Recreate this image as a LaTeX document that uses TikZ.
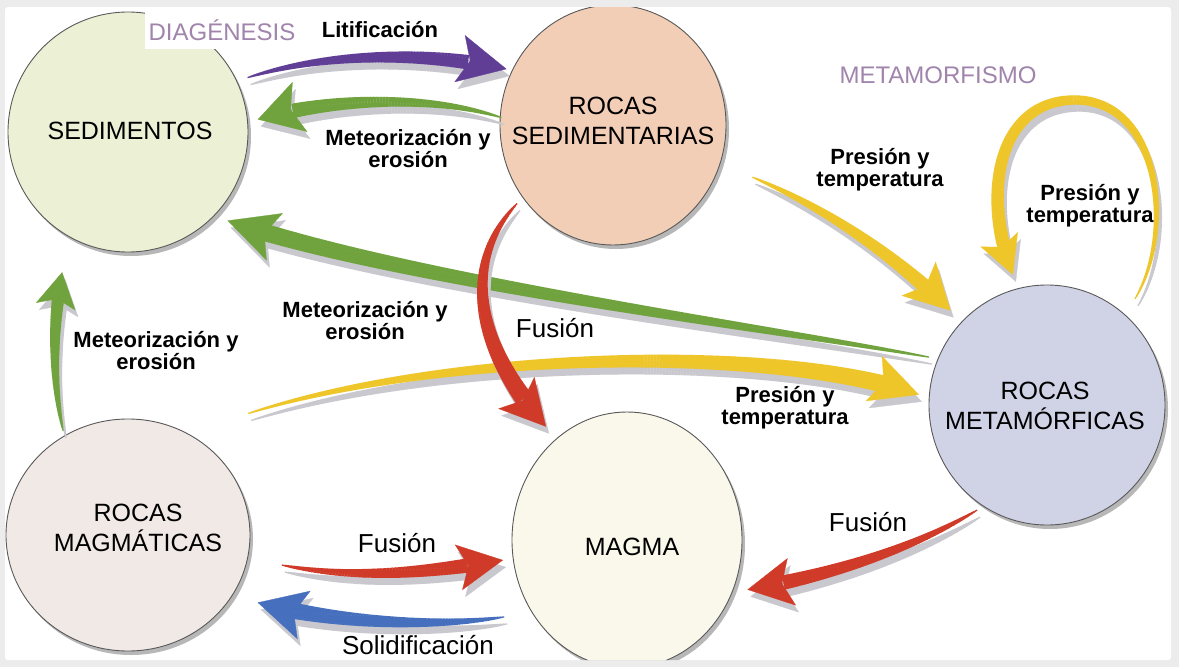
\documentclass[tikz,border=0pt]{standalone}
\usepackage{fontspec}
\setmainfont{Liberation Sans}
\usetikzlibrary{shapes.geometric,decorations.markings,calc,shadows,arrows.meta}

\definecolor{cSed}{RGB}{236,240,212}
\definecolor{cSedr}{RGB}{243,206,182}
\definecolor{cMeta}{RGB}{208,210,230}
\definecolor{cMagma}{RGB}{250,247,235}
\definecolor{cMagm}{RGB}{241,233,229}
\definecolor{aPurple}{RGB}{96,62,150}
\definecolor{aGreen}{RGB}{112,163,62}
\definecolor{aRed}{RGB}{208,58,40}
\definecolor{aYellow}{RGB}{238,198,42}
\definecolor{aBlue}{RGB}{70,112,190}
\definecolor{aShadow}{RGB}{200,200,206}
\definecolor{tPurple}{RGB}{160,132,172}
\definecolor{frameGray}{RGB}{236,236,236}

\tikzset{
  rock/.style={ellipse, draw=black!65, line width=0.9pt, inner sep=0pt,
    drop shadow={shadow xshift=3pt, shadow yshift=-4pt, opacity=0.4, fill=black!70}},
  rocktext/.style={align=center, font=\fontsize{25}{30}\selectfont, inner sep=0pt},
  lbl/.style={align=center, font=\bfseries\fontsize{22}{22}\selectfont, inner sep=1pt},
  lblr/.style={font=\fontsize{26}{28}\selectfont, inner sep=1pt},
  phase/.style={font=\fontsize{24}{26}\selectfont, text=tPurple, inner sep=4pt},
  % #1 colour, #2 head length, #3 head width (full), #4 body half-width
  taper/.style n args={4}{
    draw=#1, line width=0.3pt,
    -{Stealth[length=#2pt, width=#3pt, inset=#2pt*0.22, fill=#1]},
    postaction={decorate, decoration={markings,
      mark=between positions 0 and 0.99 step 3pt with {%
        \pgfmathsetmacro\dfs{\pgfkeysvalueof{/pgf/decoration/mark info/distance from start}}%
        \pgfmathsetmacro\plen{\pgfdecoratedpathlength}%
        \pgfmathtruncatemacro\okb{(\dfs < \plen - #2*0.8) ? 1 : 0}%
        \ifnum\okb=1
          \pgfmathsetmacro\tr{0.6+(#4-0.6)*(max(\dfs/\plen,0.001))^0.7}%
          \fill[#1] (-1.7pt,-\tr pt) rectangle (1.7pt,\tr pt);%
        \fi}}}}
}
\newcommand{\flowarrow}[5]{%
  \path[transform canvas={shift={(3pt,-7pt)}}, taper={aShadow}{#2}{#3}{#4}] #5;
  \path[taper={#1}{#2}{#3}{#4}] #5;
}

\begin{document}
\begin{tikzpicture}[x=1pt,y=-1pt]
\useasboundingbox (0,0) rectangle (1179,667);
\fill[frameGray] (0,0) rectangle (1179,667);
\fill[white, rounded corners=3pt] (5,7) rectangle (1171,660);
\begin{scope}
\clip[rounded corners=3pt] (5,7) rectangle (1171,660);

% rocks
\node[rock, fill=cSed, minimum width=240pt, minimum height=240pt] (sed) at (128,132) {};
\node[rock, fill=cSedr, minimum width=226pt, minimum height=240pt] (sedr) at (613,125) {};
\node[rock, fill=cMeta, minimum width=236pt, minimum height=240pt] (meta) at (1047,405) {};
\node[rock, fill=cMagma, minimum width=230pt, minimum height=256pt] (magma) at (627,540) {};
\node[rock, fill=cMagm, minimum width=244pt, minimum height=232pt] (magm) at (128,535) {};
\node[rocktext] (sedT) at (130,131) {SEDIMENTOS};
\node[rocktext] (sedrT) at (613,121) {ROCAS\\SEDIMENTARIAS};
\node[rocktext] (metaT) at (1045,406) {ROCAS\\METAMÓRFICAS};
\node[rocktext] (magmaT) at (632,547) {MAGMA};
\node[rocktext] (magmT) at (138,528) {ROCAS\\MAGMÁTICAS};

% arrows
\flowarrow{aPurple}{48}{48}{8}{($(sed.25)+(12,-4)$) .. controls (330,52) and (430,52) .. ($(sedr.152)+(-5,-2)$)}
\flowarrow{aGreen}{44}{52}{8}{(sedr.176) .. controls (430,95) and (330,98) .. ($(sed.6)+(10,0)$)}
\flowarrow{aGreen}{50}{50}{9}{($(meta.155)+(-12,2)$) .. controls (780,330) and (400,280) .. ($(sed.-42)+(10,8)$)}
\flowarrow{aYellow}{48}{48}{9}{($(magm.40)+(30,-45)$) .. controls (450,350) and (780,345) .. ($(meta.175)+(-10,0)$)}
\flowarrow{aRed}{45}{48}{10}{($(sedr.-140)+(-8,5)$) .. controls (465,260) and (470,340) .. ($(magma.125)+(-10,-12)$)}
\flowarrow{aYellow}{45}{48}{8}{($(sedr.-22)+(35,10)$) .. controls (830,210) and (900,260) .. ($(meta.135)+(-12,-10)$)}
\flowarrow{aYellow}{38}{40}{7}{($(meta.50)+(12,-16)$) .. controls (1175,230) and (1160,100) .. (1075,100) .. controls (1000,100) and (980,190) .. ($(meta.105)+(-3,-14)$)}
\flowarrow{aGreen}{35}{40}{7}{($(magm.118)+(-10,-2)$) .. controls (50,370) and (55,310) .. ($(sed.-122)+(-2,38)$)}
\flowarrow{aRed}{45}{46}{8}{($(magm.-12)+(36,5)$) .. controls (360,580) and (430,572) .. ($(magma.190)+(-10,0)$)}
\flowarrow{aBlue}{48}{50}{9}{($(magma.-150)+(-22,18)$) .. controls (430,628) and (330,622) .. ($(magm.-22)+(17,22)$)}
\flowarrow{aRed}{45}{48}{8}{($(meta.-118)+(-15,0)$) .. controls (910,550) and (830,575) .. ($(magma.-25)+(14,0)$)}

% labels
\node[phase, fill=white, inner ysep=8pt] (diag) at (222,30) {DIAGÉNESIS};
\node[phase] (metam) at (938,75) {METAMORFISMO};
\node[lbl] (lLit) at (380,30) {Litificación};
\node[lbl] (lMet1) at (408,149) {Meteorización y\\erosión};
\node[lbl] (lPre1) at (880,170) {Presión y\\temperatura};
\node[lbl] (lPre2) at (1090,206) {Presión y\\temperatura};
\node[lbl] (lMet2) at (365,321) {Meteorización y\\erosión};
\node[lblr] (lFus1) at (555,328) {Fusión};
\node[lbl] (lMet3) at (156,351) {Meteorización y\\erosión};
\node[lbl] (lPre3) at (785,408) {Presión y\\temperatura};
\node[lblr] (lFus2) at (868,522) {Fusión};
\node[lblr] (lFus3) at (397,543) {Fusión};
\node[lblr] (lSol) at (418,645) {Solidificación};
\end{scope}
\end{tikzpicture}
\end{document}
